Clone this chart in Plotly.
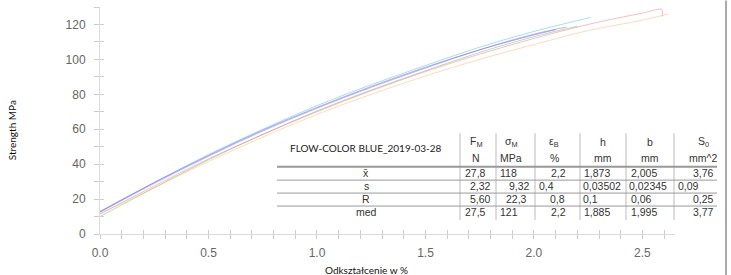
import plotly.graph_objects as go

# ---- curve data (strain %, strength MPa) ----
cyan_x = [0.0, 0.25, 0.5, 0.75, 1.0, 1.25, 1.5, 1.75, 2.0, 2.26]
cyan_y = [12.5, 29.5, 45.5, 60.0, 73.5, 85.5, 96.5, 107.0, 116.0, 124.0]
blue_x = [0.0, 0.25, 0.5, 0.75, 1.0, 1.25, 1.5, 1.75, 2.0, 2.1]
blue_y = [13.0, 29.5, 45.0, 59.5, 72.5, 84.5, 95.5, 105.5, 114.0, 117.0]
purple_x = [0.0, 0.25, 0.5, 0.75, 1.0, 1.25, 1.5, 1.75, 2.0, 2.15]
purple_y = [12.5, 29.0, 44.5, 59.0, 72.0, 84.0, 95.0, 105.5, 114.5, 118.5]
green_x = [0.0, 0.25, 0.5, 0.75, 1.0, 1.25, 1.5, 1.75, 2.0, 2.2]
green_y = [10.0, 26.5, 42.5, 57.0, 70.5, 82.5, 93.5, 104.0, 113.0, 119.0]
red_x = [0.0, 0.25, 0.5, 0.75, 1.0, 1.25, 1.5, 1.75, 2.0, 2.25, 2.5, 2.59, 2.59]
red_y = [11.5, 27.5, 43.0, 57.0, 70.0, 82.0, 93.0, 103.0, 112.0, 120.0, 126.5, 128.5, 124.5]
orange_x = [0.0, 0.25, 0.5, 0.75, 1.0, 1.25, 1.5, 1.75, 2.0, 2.25, 2.5, 2.62]
orange_y = [11.5, 26.5, 41.5, 55.5, 68.5, 80.0, 90.5, 100.0, 108.5, 116.5, 122.5, 126.0]

curves = [
    (cyan_x, cyan_y, "rgba(80,205,215,0.55)"),
    (blue_x, blue_y, "rgba(70,80,235,0.45)"),
    (purple_x, purple_y, "rgba(160,90,225,0.5)"),
    (green_x, green_y, "rgba(60,180,70,0.4)"),
    (red_x, red_y, "rgba(235,90,110,0.4)"),
    (orange_x, orange_y, "rgba(245,165,90,0.4)"),
]

# ---- table data ----
table_title = "FLOW-COLOR BLUE_2019-03-28"
col_heads = ["F<sub>M</sub>", "σ<sub>M</sub>", "ε<sub>B</sub>", "h", "b", "S<sub>0</sub>"]
col_units = ["N", "MPa", "%", "mm", "mm", "mm^2"]
row_labels = ["x\u0304", "s", "R", "med"]
col_FM = ["27,8", "2,32", "5,60", "27,5"]
col_sigma = ["118", "9,32", "22,3", "121"]
col_eps = ["2,2", "0,4", "0,8", "2,2"]
col_h = ["1,873", "0,03502", "0,1", "1,885"]
col_b = ["2,005", "0,02345", "0,06", "1,995"]
col_S0 = ["3,76", "0,09", "0,25", "3,77"]

W, H = 731, 275
L, R, T, B = 100, 56, 6.5, 41
XMAX, YMAX = 2.65, 130


def px(x):
    return (x - L) / (W - L - R)


def py(y):
    return (H - B - y) / (H - B - T)


fig = go.Figure()
for xs, ys, c in curves:
    fig.add_trace(go.Scatter(x=xs, y=ys, mode="lines", line=dict(color=c, width=1, shape="spline"),
                             showlegend=False, hoverinfo="skip"))
fig.add_trace(go.Scatter(x=[0], y=[0], xaxis="x2", yaxis="y2", mode="markers",
                         marker=dict(opacity=0), showlegend=False, hoverinfo="skip"))

tickfont = dict(family="Liberation Sans, Arial", size=12, color="#666")
axcommon = dict(showgrid=False, zeroline=False, showline=True, linecolor="#ddd", linewidth=1)

fig.update_layout(
    width=W, height=H, margin=dict(l=L, r=R, t=T, b=B),
    paper_bgcolor="white", plot_bgcolor="white",
    xaxis=dict(range=[0, XMAX], tickvals=[0, 0.5, 1.0, 1.5, 2.0, 2.5],
               ticktext=["0.0", "0.5", "1.0", "1.5", "2.0", "2.5"],
               ticks="outside", ticklen=4, tickcolor="#ccc",
               minor=dict(dtick=0.1, ticks="outside", ticklen=4, tickcolor="#ccc"),
               tickfont=tickfont, ticklabelstandoff=4, **axcommon),
    yaxis=dict(range=[0, YMAX], tickvals=[0, 20, 40, 60, 80, 100, 120],
               ticks="outside", ticklen=5, tickcolor="#ccc",
               minor=dict(dtick=10, ticks="outside", ticklen=5, tickcolor="#ccc"),
               tickfont=tickfont, ticklabelstandoff=6, **axcommon),
    xaxis2=dict(range=[0, XMAX], overlaying="x", dtick=0.1, ticks="inside", ticklen=4,
                tickcolor="#ccc", showticklabels=False, showgrid=False, zeroline=False,
                showline=False, side="bottom"),
    yaxis2=dict(range=[0, YMAX], overlaying="y", dtick=10, ticks="inside", ticklen=4,
                tickcolor="#ccc", showticklabels=False, showgrid=False, zeroline=False,
                showline=False, side="left"),
)

ann = []
shapes = []


def note(text, x, y, font, xanchor="center", **kw):
    ann.append(dict(text=text, x=px(x), y=py(y), xref="paper", yref="paper",
                    xanchor=xanchor, yanchor="middle", showarrow=False, font=font,
                    borderpad=0, **kw))


lab_font = dict(family="Lato", size=10, color="#111")
note("Strength MPa", 12, 130, lab_font, textangle=-90)
note("Odkształcenie w %", 366, 270, lab_font)

# right border line
shapes.append(dict(type="line", xref="paper", yref="paper", x0=px(726), x1=px(726),
                   y0=py(0), y1=py(275), line=dict(color="#aaa", width=2)))

# table
tfont = dict(family="Liberation Sans, Arial", size=10.5, color="#333")
vlines = [460, 496, 535, 580, 626, 674]
for vx in vlines:
    shapes.append(dict(type="line", xref="paper", yref="paper", x0=px(vx), x1=px(vx),
                       y0=py(133), y1=py(220), line=dict(color="#bbb", width=1)))
shapes.append(dict(type="line", xref="paper", yref="paper", x0=px(277), x1=px(717),
                   y0=py(166.5), y1=py(166.5), line=dict(color="#999", width=2)))
for hy in [180, 193, 206]:
    shapes.append(dict(type="line", xref="paper", yref="paper", x0=px(277), x1=px(717),
                       y0=py(hy), y1=py(hy), line=dict(color="#999", width=1)))

note(table_title, 366, 148, dict(family="Lato", size=10, color="#222"))
head_x = [476, 511, 554, 603, 650, 703]
for hx, h1, h2 in zip(head_x, col_heads, col_units):
    note(h1, hx, 142, tfont)
    note(h2, hx, 158, tfont)

row_y = [173, 186, 199, 212]
for ry, lab in zip(row_y, row_labels):
    note(lab, 366, ry, tfont)

# per-cell placement: (anchor x pixel, xanchor)
cols = [col_FM, col_sigma, col_eps, col_h, col_b, col_S0]
place = [
    [(464, "left"), (492, "right"), (492, "right"), (464, "left")],
    [(499, "left"), (531, "right"), (516, "center"), (499, "left")],
    [(567, "right"), (538, "left"), (557, "center"), (567, "right")],
    [(583, "left"), (582, "left"), (582, "left"), (583, "left")],
    [(630, "left"), (628, "left"), (630, "left"), (630, "left")],
    [(715, "right"), (677, "left"), (715, "right"), (715, "right")],
]
for col, pl in zip(cols, place):
    for val, (ax, anc), ry in zip(col, pl, row_y):
        note(val, ax, ry, tfont, xanchor=anc)

fig.update_layout(annotations=ann, shapes=shapes)
fig.write_html("out.html", config={"displayModeBar": False},
               post_script="document.body.style.margin='0';document.body.style.overflow='hidden';")
